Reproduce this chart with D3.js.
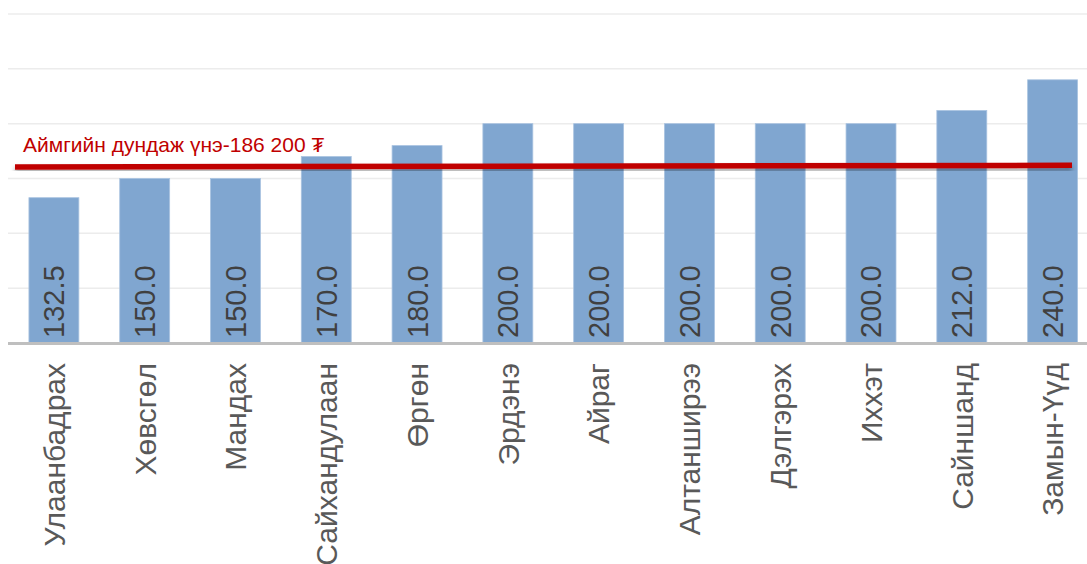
<!DOCTYPE html>
<html>
<head>
<meta charset="utf-8">
<script src="https://cdn.jsdelivr.net/npm/d3@7"></script>
<style>
  body { margin: 0; background: #fff; }
  svg { display: block; font-family: "Liberation Sans", Arial, sans-serif; }
</style>
</head>
<body>
<svg id="chart" width="1087" height="564"></svg>
<script>
// Data
const categories = ["Улаанбадрах", "Хөвсгөл", "Мандах", "Сайхандулаан", "Өргөн", "Эрдэнэ",
  "Айраг", "Алтанширээ", "Дэлгэрэх", "Иххэт", "Сайншанд", "Замын-Үүд"];
const prices = [132.5, 150.0, 150.0, 170.0, 180.0, 200.0, 200.0, 200.0, 200.0, 200.0, 212.0, 240.0];
const gridTicks = [0, 50, 100, 150, 200, 250, 300];
const avgLabel = "Аймгийн дундаж үнэ-186 200 ₮";
const avgLineLevel = [160.5, 162]; // where the red line sits on the chart (left, right)

const svg = d3.select("#chart");
const width = 1087;

const x = d3.scaleBand()
  .domain(categories)
  .range([8.5, 1098])
  .paddingInner(0.45)
  .paddingOuter(0.225);

const y = d3.scaleLinear()
  .domain([0, 300])
  .range([343, 14]);

// gridlines
svg.append("g")
  .selectAll("line")
  .data(gridTicks.slice(1))
  .join("line")
  .attr("x1", 8)
  .attr("x2", width)
  .attr("y1", d => y(d))
  .attr("y2", d => y(d))
  .attr("stroke", "#ececec")
  .attr("stroke-width", 1.5);

// bars
svg.append("g")
  .selectAll("rect")
  .data(prices)
  .join("rect")
  .attr("x", (d, i) => x(categories[i]))
  .attr("y", d => y(d))
  .attr("width", x.bandwidth())
  .attr("height", d => y(0) - y(d))
  .attr("fill", "#80a6d0")
  .attr("stroke", "#a9c3e0")
  .attr("stroke-width", 0.8);

// baseline
svg.append("line")
  .attr("x1", 8)
  .attr("x2", width)
  .attr("y1", y(0) + 0.5)
  .attr("y2", y(0) + 0.5)
  .attr("stroke", "#bfbfbf")
  .attr("stroke-width", 3);

// value labels inside bars
svg.append("g")
  .selectAll("text")
  .data(prices)
  .join("text")
  .attr("transform", (d, i) =>
    `translate(${x(categories[i]) + x.bandwidth() / 2}, ${y(0) - 5}) rotate(-90)`)
  .attr("dy", "0.36em")
  .attr("font-size", 29)
  .attr("fill", "#404040")
  .text(d => d.toFixed(1));

// category labels
svg.append("g")
  .selectAll("text")
  .data(categories)
  .join("text")
  .attr("transform", d => `translate(${x(d) + x.bandwidth() / 2}, 363) rotate(-90)`)
  .attr("dy", "0.36em")
  .attr("text-anchor", "end")
  .attr("font-size", 30)
  .attr("fill", "#595959")
  .text(d => d);

// average line with shadow
const defs = svg.append("defs");
const f = defs.append("filter").attr("id", "shadow")
  .attr("x", "-5%").attr("y", "-200%").attr("width", "110%").attr("height", "500%");
f.append("feDropShadow")
  .attr("dx", 0).attr("dy", 3).attr("stdDeviation", 2)
  .attr("flood-color", "#000").attr("flood-opacity", 0.35);

svg.append("line")
  .attr("x1", 15)
  .attr("x2", 1072)
  .attr("y1", y(avgLineLevel[0]))
  .attr("y2", y(avgLineLevel[1]))
  .attr("stroke", "#c00000")
  .attr("stroke-width", 5.5)
  .attr("filter", "url(#shadow)");

svg.append("text")
  .attr("x", 23)
  .attr("y", 152)
  .attr("font-size", 21)
  .attr("fill", "#c00000")
  .text(avgLabel);
</script>
</body>
</html>
